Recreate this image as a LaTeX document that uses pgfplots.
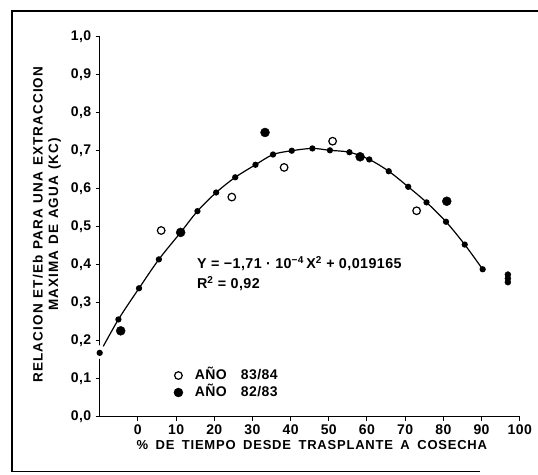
\documentclass[border=0pt]{standalone}
\usepackage{fontspec}
\setmainfont{Liberation Sans}
\newfontfamily\lbl[LetterSpace=6]{Liberation Sans}
\newfontfamily\ylb[LetterSpace=8]{Liberation Sans}
\newfontfamily\tck[LetterSpace=3]{Liberation Sans}
\usepackage{pgfplots}
\pgfplotsset{compat=1.18}

\begin{document}
\begin{tikzpicture}
\useasboundingbox (0pt,0pt) rectangle (538pt,-474pt);
% page frame (open on the right)
\draw[line width=1.3pt] (538pt,-11pt) -- (12pt,-11pt) -- (12pt,-471.5pt) -- (480pt,-471.5pt);

\begin{axis}[
  at={(99.7pt,-416.7pt)}, anchor=south west,
  scale only axis, width=420pt, height=380pt,
  xmin=-10, xmax=100, ymin=0, ymax=1,
  axis lines=left,
  x axis line style={-}, y axis line style={-},
  axis line style={line width=1.2pt},
  tick align=outside, major tick length=4pt,
  tick style={line width=1pt, black},
  xtick={0,10,20,30,40,50,60,70,80,90,100},
  xticklabels={0,10,20,30,40,50,60,70,80,90,100},
  ytick={0,0.1,0.2,0.3,0.4,0.5,0.6,0.7,0.8,0.9,1.0},
  yticklabels={{0,0},{0,1},{0,2},{0,3},{0,4},{0,5},{0,6},{0,7},{0,8},{0,9},{1,0}},
  ticklabel style={font=\tck\bfseries\fontsize{14}{15}\selectfont},
  yticklabel style={xshift=-1pt},
  xlabel={\%\hspace{7.5pt}DE\hspace{7.5pt}TIEMPO\hspace{7.5pt}DESDE\hspace{7.5pt}TRASPLANTE\hspace{7.5pt}A\hspace{7.5pt}COSECHA},
  xlabel style={at={(axis description cs:0.505,-0.0745)}, anchor=center,
    font=\lbl\bfseries\fontsize{13}{14}\selectfont},
  ylabel={RELACION\hspace{6pt}ET/Eb\hspace{6pt}PARA\hspace{6pt}UNA\hspace{6pt}EXTRACCION\\MAXIMA\hspace{6pt}DE\hspace{6pt}AGUA\hspace{6pt}(KC)},
  ylabel style={at={(axis description cs:-0.1258,0.5058)}, anchor=center, align=center,
    font=\ylb\bfseries\fontsize{13.5}{15.5}\selectfont},
  clip=false,
  legend cell align=left,
  legend image code/.code={\draw[#1] plot coordinates {(0pt,0pt)};},
  legend style={draw=none, fill=none, at={(axis cs:8.6,0.086)}, anchor=west,
    font=\tck\bfseries\fontsize{14}{15}\selectfont, row sep=5pt,
    nodes={inner sep=0pt, text height=10pt, text depth=2pt},
    /tikz/every odd column/.append style={column sep=12pt}},
]
% clear space on the y axis around the first curve point
\addplot[only marks, mark=*, mark size=6.5pt, mark options={draw=white, fill=white}, forget plot]
  coordinates {(-10,0.170)};
% fitted curve with its computed points
\addplot[black, line width=1.2pt, smooth, mark=*, mark size=2.5pt, forget plot]
  coordinates {(-10,0.168)(-5.1,0.256)(0.3,0.338)(5.5,0.414)(11.2,0.485)(15.6,0.541)
  (20.5,0.590)(25.5,0.630)(30.8,0.663)(35.4,0.690)(40.3,0.700)(45.7,0.706)(50.3,0.701)
  (55.4,0.696)(60.6,0.677)(65.7,0.646)(70.8,0.605)(75.6,0.564)(80.7,0.513)(85.6,0.453)
  (90.3,0.388)};
% season 83/84
\addplot[only marks, mark=*, mark size=3.8pt, mark options={draw=black, fill=white, line width=1.2pt}]
  coordinates {(6.1,0.490)(24.6,0.578)(38.3,0.656)(51.0,0.725)(73.0,0.542)};
\addlegendentry{AÑO\hspace{14pt}83/84}
% season 82/83
\addplot[only marks, mark=*, mark size=4.5pt, mark options={draw=black, fill=black}]
  coordinates {(-4.5,0.226)(11.2,0.485)(33.3,0.748)(58.2,0.684)(80.9,0.567)};
\addlegendentry{AÑO\hspace{14pt}82/83}
\addplot[only marks, mark=*, mark size=3pt, mark options={draw=black, fill=black}, forget plot]
  coordinates {(96.9,0.374)(96.9,0.364)(96.9,0.354)};
% regression equation
\node[anchor=base west, font=\tck\bfseries\fontsize{14.3}{15}\selectfont]
  at (axis cs:14.6,0.3905) {Y = −1,71 · 10\textsuperscript{−4}\,X\textsuperscript{2} + 0,019165};
\node[anchor=base west, font=\tck\bfseries\fontsize{14.3}{15}\selectfont]
  at (axis cs:14.6,0.338) {R\textsuperscript{2} = 0,92};
\end{axis}
\end{tikzpicture}
\end{document}
